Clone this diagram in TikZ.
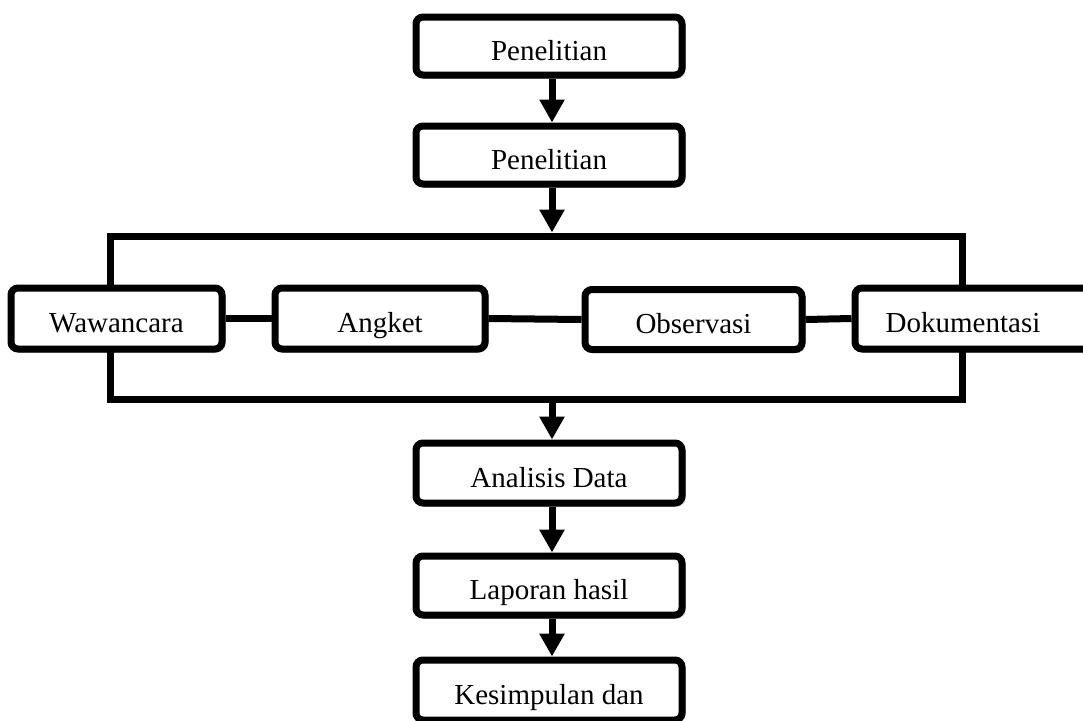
\documentclass[tikz,border=0pt]{standalone}
\usepackage{fontspec}
\setmainfont{Liberation Serif}
\usetikzlibrary{arrows.meta,shadows.blur}
\tikzset{
  boxnode/.style={draw=black, fill=white, line width=7pt, rounded corners=7pt,
    inner sep=0pt, text height=28pt, text depth=0pt,
    font=\fontsize{29}{32}\selectfont,
    blur shadow={shadow xshift=1.5pt, shadow yshift=-1.5pt, shadow blur steps=6, shadow opacity=35}},
  framenode/.style={draw=black, line width=7pt, inner sep=0pt},
  flowarrow/.style={line width=7pt, -{Triangle[width=24pt,length=23pt]}},
  linkline/.style={line width=7pt}
}
\begin{document}
\begin{tikzpicture}[x=1pt,y=-1pt]
\useasboundingbox (0,0) rectangle (1083,720);
\clip (0,0) rectangle (1083,720);
\fill[white] (0,0) rectangle (1083,720);
% frame rectangle
\node[framenode, minimum width=852pt, minimum height=163pt] (frame) at (536,317.5) {};
% boxes
\node[boxnode, minimum width=266pt, minimum height=58pt] (p1) at (549,46) {Penelitian};
\node[boxnode, minimum width=266pt, minimum height=58pt] (p2) at (549,155) {Penelitian};
\node[boxnode, minimum width=211pt, minimum height=61pt] (waw) at (116.5,318.5) {Wawancara};
\node[boxnode, minimum width=210pt, minimum height=61pt] (ang) at (380,318.5) {Angket};
\node[boxnode, minimum width=217pt, minimum height=60pt] (obs) at (693.5,319.5) {Observasi};
\node[boxnode, minimum width=240pt, minimum height=61pt] (dok) at (975,318.5) {\hspace*{-24pt}Dokumentasi};
\node[boxnode, minimum width=266pt, minimum height=60pt] (ana) at (549,473) {Analisis Data};
\node[boxnode, minimum width=266pt, minimum height=59pt] (lap) at (549,585.5) {Laporan hasil};
\node[boxnode, minimum width=266pt, minimum height=60pt] (kes) at (549,690) {Kesimpulan dan};
% connectors between row boxes
\draw[linkline] (waw.east) -- (ang.west);
\draw[linkline] (ang.east) -- (obs.west);
\draw[linkline] (obs.east) -- (dok.west);
% arrows
\coordinate (p1s) at ([xshift=3pt]p1.south);
\coordinate (p2n) at ([xshift=3pt]p2.north);
\coordinate (p2s) at ([xshift=3pt]p2.south);
\coordinate (ft) at (p2s |- frame.north);
\coordinate (fb) at (p2s |- frame.south);
\coordinate (anan) at ([xshift=3pt]ana.north);
\coordinate (anas) at ([xshift=3pt]ana.south);
\coordinate (lapn) at ([xshift=3pt]lap.north);
\coordinate (laps) at ([xshift=3pt]lap.south);
\coordinate (kesn) at ([xshift=3pt]kes.north);
\draw[flowarrow] (p1s) -- (p2n);
\draw[flowarrow] (p2s) -- (ft);
\draw[flowarrow] (fb) -- (anan);
\draw[flowarrow] (anas) -- (lapn);
\draw[flowarrow] (laps) -- (kesn);
\end{tikzpicture}
\end{document}
